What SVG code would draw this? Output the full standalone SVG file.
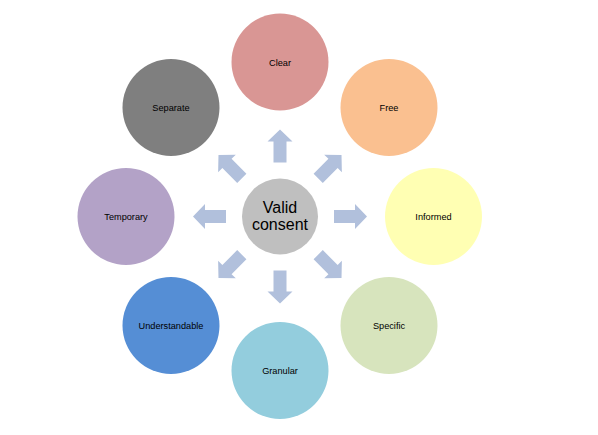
<svg xmlns="http://www.w3.org/2000/svg" xmlns:xlink="http://www.w3.org/1999/xlink" width="598" height="435" viewBox="0 0 598 435">
<style>
.lbl{font-family:"Liberation Sans",Arial,sans-serif;font-size:9.2px;fill:#000;text-anchor:middle}
.ctr{font-family:"Liberation Sans",Arial,sans-serif;font-size:16px;fill:#000;text-anchor:middle}
.arr{fill:#b1c0dc}
</style>
<defs>
<path id="arr" d="M54,-6.5 H75 V-12.5 L87,0 L75,12.5 V6.5 H54 Z"/>
</defs>
<rect width="598" height="435" fill="#fff"/>
<g id="connectors" class="arr" transform="translate(280,216.5)">
<use xlink:href="#arr" transform="rotate(-90)"/>
<use xlink:href="#arr" transform="rotate(-45)"/>
<use xlink:href="#arr"/>
<use xlink:href="#arr" transform="rotate(45)"/>
<use xlink:href="#arr" transform="rotate(90)"/>
<use xlink:href="#arr" transform="rotate(135)"/>
<use xlink:href="#arr" transform="rotate(180)"/>
<use xlink:href="#arr" transform="rotate(225)"/>
</g>
<g id="center"><circle cx="280" cy="216.5" r="38" fill="#bfbfbf"/><text class="ctr" x="280" y="213">Valid</text><text class="ctr" x="280" y="230">consent</text></g>
<g id="clear"><circle cx="280" cy="62" r="48.5" fill="#d99694"/><text class="lbl" x="280" y="65.5">Clear</text></g>
<g id="free"><circle cx="389" cy="107.5" r="48.5" fill="#fac090"/><text class="lbl" x="389" y="111">Free</text></g>
<g id="informed"><circle cx="433.5" cy="216.5" r="48.5" fill="#ffffb3"/><text class="lbl" x="433.5" y="220">Informed</text></g>
<g id="specific"><circle cx="389" cy="325.5" r="48.5" fill="#d7e4bd"/><text class="lbl" x="389" y="329">Specific</text></g>
<g id="granular"><circle cx="280" cy="370.5" r="48.5" fill="#93cddd"/><text class="lbl" x="280" y="374">Granular</text></g>
<g id="understandable"><circle cx="171" cy="325.5" r="48.5" fill="#558ed5"/><text class="lbl" x="171" y="329">Understandable</text></g>
<g id="temporary"><circle cx="126" cy="216.5" r="48.5" fill="#b3a2c7"/><text class="lbl" x="126" y="220">Temporary</text></g>
<g id="separate"><circle cx="171" cy="107.5" r="48.5" fill="#7f7f7f"/><text class="lbl" x="171" y="111">Separate</text></g>
</svg>
